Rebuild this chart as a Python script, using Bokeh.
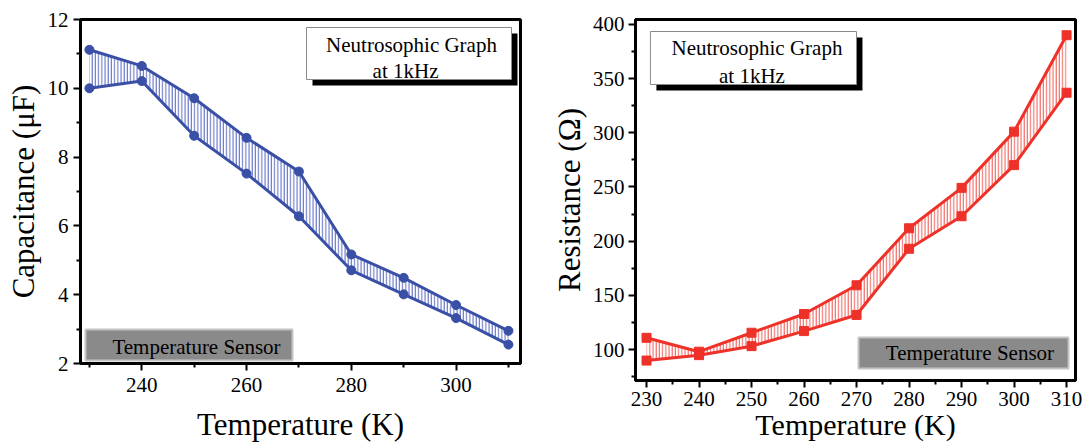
from bokeh.plotting import figure
from bokeh.layouts import row, column
from bokeh.models import FixedTicker, Label, BoxAnnotation, Range1d
from bokeh.embed import file_html
from bokeh.resources import INLINE

# ---------------- data ----------------
temperature = [230, 240, 250, 260, 270, 280, 290, 300, 310]
cap_upper = [11.12, 10.65, 9.71, 8.56, 7.58, 5.17, 4.49, 3.70, 2.95]
cap_lower = [10.00, 10.21, 8.62, 7.52, 6.28, 4.71, 4.01, 3.32, 2.55]
res_upper = [110.8, 98.0, 115.5, 132.8, 159.3, 211.9, 249.2, 301.1, 390.1]
res_lower = [89.8, 94.8, 103.1, 117.0, 131.9, 193.0, 223.0, 270.2, 337.0]

left_x_ticks = [240, 260, 280, 300]
left_x_minor = [230, 250, 270, 290, 310]
left_y_ticks = [2, 4, 6, 8, 10, 12]
left_y_minor = [3, 5, 7, 9, 11]
right_x_ticks = [230, 240, 250, 260, 270, 280, 290, 300, 310]
right_x_minor = [235, 245, 255, 265, 275, 285, 295, 305]
right_y_ticks = [100, 150, 200, 250, 300, 350, 400]
right_y_minor = [75, 125, 175, 225, 275, 325, 375]

box_title = ["Neutrosophic Graph", "at 1kHz"]
sensor_text = "Temperature Sensor"
x_title = "Temperature (K)"
left_y_title = "Capacitance (\u03bcF)"
right_y_title = "Resistance (\u03a9)"

BLUE = "#3a4fa6"
BLUE_HATCH = "#5467bf"
RED = "#ee3229"
RED_HATCH = "#ef5a52"
FONT = "'Liberation Serif', 'Times New Roman', serif"


def mapper(frame_left, frame_top, frame_w, frame_h, xr, yr):
    def fx(px):
        return xr[0] + (px - frame_left) * (xr[1] - xr[0]) / frame_w

    def fy(py):
        return yr[1] - (py - frame_top) * (yr[1] - yr[0]) / frame_h

    return fx, fy


def style_axes(p):
    for ax in (p.xaxis[0], p.yaxis[0]):
        ax.axis_line_width = 3
        ax.axis_line_color = "black"
        ax.major_tick_line_width = 2
        ax.minor_tick_line_width = 2
        ax.major_tick_line_color = "black"
        ax.minor_tick_line_color = "black"
        ax.major_tick_out = 7
        ax.major_tick_in = 0
        ax.minor_tick_out = 4
        ax.minor_tick_in = 0
        ax.major_label_text_font = FONT
        ax.major_label_text_font_size = "21px"
        ax.major_label_text_color = "black"
        ax.axis_label_text_font = FONT
        ax.axis_label_text_font_size = "31px"
        ax.axis_label_text_font_style = "normal"
        ax.axis_label_text_color = "black"
    p.xgrid.visible = False
    p.ygrid.visible = False
    p.outline_line_color = "black"
    p.outline_line_width = 3
    p.outline_line_alpha = 1


def add_boxes(p, fx, fy, title_box, title_lines, sensor_box, sensor_center):
    l, t, r, b = title_box
    p.add_layout(BoxAnnotation(left=fx(l + 6), right=fx(r + 6), top=fy(t + 6), bottom=fy(b + 6),
                               fill_color="black", fill_alpha=1, line_alpha=0))
    p.add_layout(BoxAnnotation(left=fx(l), right=fx(r), top=fy(t), bottom=fy(b),
                               fill_color="white", fill_alpha=1, line_color="#8a8a8a",
                               line_alpha=1, line_width=1))
    for (cx, cy), txt in zip(title_lines, box_title):
        p.add_layout(Label(x=fx(cx), y=fy(cy), text=txt, text_align="center",
                           text_baseline="middle", text_font=FONT, text_font_size="21px",
                           text_color="black"))
    l, t, r, b = sensor_box
    p.add_layout(BoxAnnotation(left=fx(l), right=fx(r), top=fy(t), bottom=fy(b),
                               fill_color="#8a8a8a", fill_alpha=1, line_color="#c4c4c4",
                               line_alpha=1, line_width=2))
    p.add_layout(Label(x=fx(sensor_center[0]), y=fy(sensor_center[1]), text=sensor_text,
                       text_align="center", text_baseline="middle", text_font=FONT,
                       text_font_size="21px", text_color="black"))


# ---------------- left panel: capacitance ----------------
L_xr = (228.3, 312.3)
L_yr = (2, 12)
p1 = figure(width=548, height=447, x_range=Range1d(*L_xr), y_range=Range1d(*L_yr),
            output_backend="svg", toolbar_location=None,
            min_border_left=80, min_border_right=28, min_border_top=19, min_border_bottom=84,
            background_fill_color="white", border_fill_color="white")
style_axes(p1)
p1.xaxis[0].ticker = FixedTicker(ticks=left_x_ticks, minor_ticks=left_x_minor)
p1.yaxis[0].ticker = FixedTicker(ticks=left_y_ticks, minor_ticks=left_y_minor)
p1.xaxis[0].major_label_standoff = 7
p1.yaxis[0].major_label_standoff = 5
p1.xaxis[0].axis_label = x_title
p1.xaxis[0].axis_label_standoff = 12
p1.yaxis[0].axis_label = left_y_title
p1.yaxis[0].axis_label_standoff = 4

p1.varea(x=temperature, y1=cap_lower, y2=cap_upper, fill_alpha=0,
         hatch_pattern="vertical_line", hatch_scale=3.2, hatch_weight=1,
         hatch_color=BLUE_HATCH, hatch_alpha=1)
p1.line(temperature, cap_upper, line_color=BLUE, line_width=3)
p1.line(temperature, cap_lower, line_color=BLUE, line_width=3)
p1.scatter(temperature, cap_upper, marker="circle", size=9, color=BLUE)
p1.scatter(temperature, cap_lower, marker="circle", size=9, color=BLUE)

fx1, fy1 = mapper(80, 19, 440, 344, L_xr, L_yr)
add_boxes(p1, fx1, fy1, (306, 27, 511, 79), [(411, 44), (405, 70)],
          (85, 329, 292, 360), (196, 346))

# ---------------- right panel: resistance ----------------
R_xr = (227.9, 311.7)
R_yr = (71.4, 404.6)
p2 = figure(width=535, height=447, x_range=Range1d(*R_xr), y_range=Range1d(*R_yr),
            output_backend="svg", toolbar_location=None,
            min_border_left=85, min_border_right=8, min_border_top=19, min_border_bottom=67,
            background_fill_color="white", border_fill_color="white")
style_axes(p2)
p2.xaxis[0].ticker = FixedTicker(ticks=right_x_ticks, minor_ticks=right_x_minor)
p2.yaxis[0].ticker = FixedTicker(ticks=right_y_ticks, minor_ticks=right_y_minor)
p2.xaxis[0].major_label_standoff = 4
p2.yaxis[0].major_label_standoff = 4
p2.xaxis[0].axis_label = x_title
p2.xaxis[0].axis_label_text_font_size = "30px"
p2.xaxis[0].axis_label_standoff = -1
p2.yaxis[0].axis_label = right_y_title
p2.yaxis[0].axis_label_standoff = 3

p2.varea(x=temperature, y1=res_lower, y2=res_upper, fill_alpha=0,
         hatch_pattern="vertical_line", hatch_scale=3.2, hatch_weight=1,
         hatch_color=RED_HATCH, hatch_alpha=1)
p2.line(temperature, res_upper, line_color=RED, line_width=3)
p2.line(temperature, res_lower, line_color=RED, line_width=3)
p2.scatter(temperature, res_upper, marker="square", size=9, color=RED)
p2.scatter(temperature, res_lower, marker="square", size=9, color=RED)

fx2, fy2 = mapper(633, 19, 442, 361, R_xr, R_yr)
add_boxes(p2, fx2, fy2, (648, 31, 855, 84), [(755, 47), (750, 75)],
          (857, 337, 1068, 368), (969, 352))

# each plot in its own column so the row does not align the two frames
layout = row(column(p1), column(p2))
open("out.html", "w").write(file_html(layout, INLINE))
